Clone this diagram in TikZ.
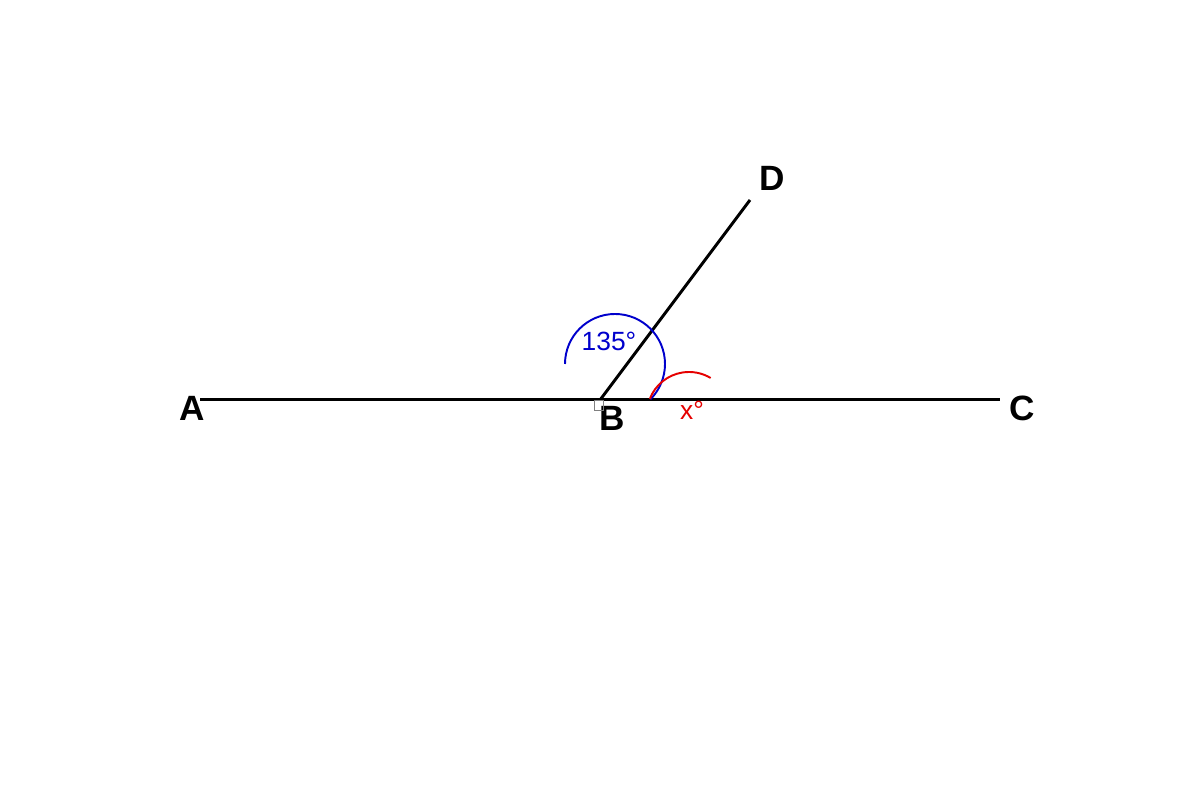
\documentclass[tikz,border=0pt]{standalone}
\usepackage{fontspec}
\setmainfont{Liberation Sans}
\usepackage{tikz}
\usetikzlibrary{calc}

\begin{document}
\begin{tikzpicture}
      \tikzset{point label/.style={font=\fontsize{10}{12}\selectfont\bfseries},
          angle label/.style={font=\fontsize{7.5}{9}\selectfont, text=#1},
          seg/.style={line width=0.85pt}
      }
      \useasboundingbox (0,0) rectangle (12,8);
      \coordinate (A) at (2,4);
      \coordinate (B) at (6,4);
      \coordinate (C) at (10,4);
      \coordinate (D) at (7.5,6);
      \node [point label] (lA) at (1.92,3.92) {A};
      \node [point label] (lB) at (6.12,3.82) {B};
      \node [point label] (lC) at (10.22,3.92) {C};
      \node [point label] (lD) at (7.72,6.22) {D};
      \draw [seg] (A)--(C);
      \draw [seg] (B)--(D);
      \draw [gray, line width=0.25pt] (5.94,3.9) rectangle (6.03,4.0);

      \draw [blue!80!black, line width=0.55pt] (5.65,4.36) arc (180:-45:0.5);
      \node [angle label=blue!80!black] (ang1) at (6.09,4.59) {135°};
      \draw [red!90!black, line width=0.55pt] ($(6.89,3.86)+(159:0.42)$) arc (159:59:0.42);
      \node [angle label=red!90!black] (ang2) at (6.92,3.90) {x°};

    \end{tikzpicture}
\end{document}
